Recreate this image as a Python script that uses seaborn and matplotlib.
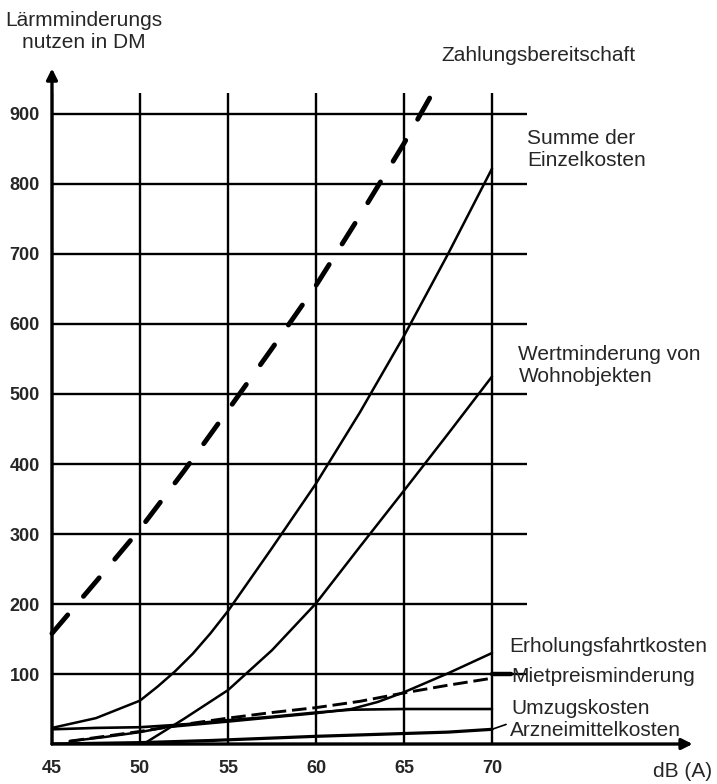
"""
Lärmminderungsnutzen in DM über dB(A) - Nachbau der Abbildung
"""

import numpy as np
import pandas as pd
import matplotlib
matplotlib.use("Agg")
import matplotlib.pyplot as plt
import seaborn as sns

# Werte
zahlung_db = [45, 47.5, 50, 52.5, 55, 57.5, 60, 62.5, 65, 66.6]
zahlung_dm = [158, 232, 307, 390, 477, 565, 655, 755, 858, 929]

summe_db = [45, 47.5, 50, 51, 52, 53, 54, 55, 57.5, 60, 62.5, 65, 67.5, 70]
summe_dm = [23, 37, 62, 82, 104, 129, 158, 190, 280, 372, 474, 583, 700, 822]

wert_db = [50.2, 52.5, 55, 57.5, 60, 62.5, 65, 67.5, 70]
wert_dm = [0, 36, 77, 134, 201, 282, 362, 443, 525]

erholung_db = [46, 48, 50, 51.5, 55, 60, 62, 63.5, 65, 67.5, 70]
erholung_dm = [4, 10, 17, 24, 32, 44, 50, 60, 74, 101, 130]

miet_db = [46, 48, 50, 52.5, 55, 57.5, 60, 62.5, 65, 67.5, 70]
miet_dm = [4, 11, 18, 28, 37, 45, 52, 61, 73, 84, 94]

umzug_db = [45, 47.5, 50, 52.5, 55, 57.5, 60, 62, 65, 70]
umzug_dm = [21, 23, 24, 28, 34, 39, 45, 49, 50, 50]

arznei_db = [45, 50, 54, 57, 60, 62.5, 65, 67.5, 70]
arznei_dm = [0, 2, 5, 8, 11, 13, 15, 17, 21]

x_ticks = [45, 50, 55, 60, 65, 70]
y_ticks = [100, 200, 300, 400, 500, 600, 700, 800, 900]

# Stil
sns.set_theme(style="white")
plt.rcParams['font.family'] = ['Liberation Sans', 'DejaVu Sans']

fig = plt.figure(figsize=(7.17, 7.84), dpi=100)
ax = fig.add_axes([0.0725, 0.051, 0.6628, 0.8304])
ax.set_xlim(45, 72)
ax.set_ylim(0, 930)

# Gitter und Achsen
ax.set_xticks(x_ticks)
ax.set_yticks(y_ticks)
ax.grid(True, color='black', linewidth=1.7)
ax.set_axisbelow(True)
for s in ax.spines.values():
    s.set_visible(False)
ax.tick_params(axis='x', direction='out', length=6.5, width=1.7, color='black',
               pad=5, labelsize=13)
ax.tick_params(axis='y', direction='out', length=7.2, width=1.7, color='black',
               pad=1.5, labelsize=13)
for lab in ax.get_xticklabels() + ax.get_yticklabels():
    lab.set_fontweight('bold')

ax.annotate('', xy=(81.4, 0), xytext=(45, 0), annotation_clip=False,
            arrowprops=dict(arrowstyle='-|>', lw=2.4, color='black',
                            mutation_scale=16, shrinkA=0, shrinkB=0))
ax.annotate('', xy=(45, 965), xytext=(45, 0), annotation_clip=False,
            arrowprops=dict(arrowstyle='-|>', lw=2.4, color='black',
                            mutation_scale=16, shrinkA=0, shrinkB=0))

# Kurven
sns.lineplot(x=zahlung_db, y=zahlung_dm, ax=ax, color='black', linewidth=3.5,
             linestyle=(0, (5, 5)), dash_capstyle='round', clip_on=False)
sns.lineplot(x=summe_db, y=summe_dm, ax=ax, color='black', linewidth=1.8)
sns.lineplot(x=wert_db, y=wert_dm, ax=ax, color='black', linewidth=1.8)
sns.lineplot(x=erholung_db, y=erholung_dm, ax=ax, color='black', linewidth=1.8)
sns.lineplot(x=miet_db, y=miet_dm, ax=ax, color='black', linewidth=2.1,
             linestyle=(0, (5, 2)))
sns.lineplot(x=umzug_db, y=umzug_dm, ax=ax, color='black', linewidth=1.9)
sns.lineplot(x=arznei_db, y=arznei_dm, ax=ax, color='black', linewidth=2.3)

# Hinweislinien zu den Beschriftungen
ax.plot([miet_db[-1], 71.1], [100, 100], color='black', linewidth=3.2,
        clip_on=False, solid_capstyle='round')
ax.plot([arznei_db[-1], 70.8], [arznei_dm[-1], arznei_dm[-1] + 7],
        color='black', linewidth=1.2, clip_on=False)

# Beschriftungen
fs = 15
ax.text(46.8, 1018, 'Lärmminderungs\nnutzen in DM', ha='center', va='center',
        fontsize=fs, linespacing=1.2)
ax.text(67.1, 983, 'Zahlungsbereitschaft', ha='left', va='center', fontsize=fs)
ax.text(72.0, 849, 'Summe der\nEinzelkosten', ha='left', va='center',
        fontsize=fs, linespacing=1.2)
ax.text(71.5, 540, 'Wertminderung von\nWohnobjekten', ha='left', va='center',
        fontsize=fs, linespacing=1.2)
ax.text(71.0, 139, 'Erholungsfahrtkosten', ha='left', va='center', fontsize=fs)
ax.text(71.1, 96, 'Mietpreisminderung', ha='left', va='center', fontsize=fs)
ax.text(71.1, 51, 'Umzugskosten', ha='left', va='center', fontsize=fs)
ax.text(71.0, 20, 'Arzneimittelkosten', ha='left', va='center', fontsize=fs)
ax.text(82.5, -39, 'dB (A)', ha='right', va='center', fontsize=fs)

fig.savefig('out.png', dpi=100)
